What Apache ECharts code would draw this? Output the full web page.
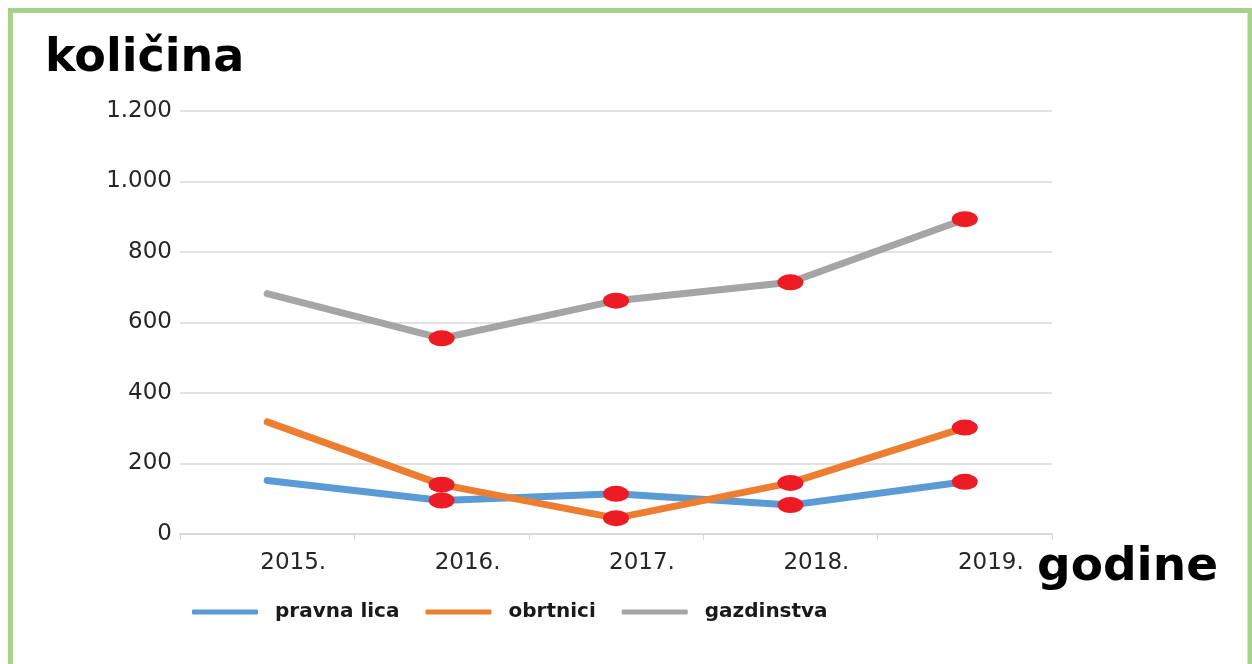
<!DOCTYPE html>
<html>
<head>
<meta charset="utf-8">
<script src="https://cdn.jsdelivr.net/npm/echarts@6/dist/echarts.min.js"></script>
<style>
  html, body { margin: 0; padding: 0; background: #fff; }
  #main { width: 1252px; height: 664px; }
</style>
</head>
<body>
<div id="main"></div>
<script>
// ---------- podaci ----------
const years = ['2015.', '2016.', '2017.', '2018.', '2019.']
const pravnaLica = [152, 95, 114, 82, 148]
const obrtnici = [318, 140, 45, 145, 302]
const gazdinstva = [682, 555, 662, 714, 893]
const yTicks = [0, 200, 400, 600, 800, 1000, 1200]

const seriesNames = ['pravna lica', 'obrtnici', 'gazdinstva']
const seriesColors = ['#5B9BD5', '#ED7D31', '#A5A5A5']

// prva tacka nema crveni marker
function points(arr) {
  return arr.map((v, i) => i === 0 ? { value: v, symbol: 'none' } : v)
}

// 1200 -> 1.200
function fmt(v) {
  return v >= 1000 ? Math.floor(v / 1000) + '.' + String(v % 1000).padStart(3, '0') : String(v)
}

let myChart = echarts.init(document.querySelector('#main'))
let font = 'DejaVu Sans'

function lineSeries(name, arr, color) {
  return {
    name: name,
    type: 'line',
    data: points(arr),
    lineStyle: { color: color, width: 7, cap: 'round', join: 'round' },
    symbol: 'circle',
    symbolSize: [26, 16],
    itemStyle: { color: '#ED1C24' }
  }
}

let option = {
  backgroundColor: '#fff',
  animation: false,
  title: [
    {
      text: 'količina',
      left: 40,
      top: 31,
      textStyle: { fontFamily: font, fontSize: 46, fontWeight: 'bold', color: '#000' }
    },
    {
      text: 'godine',
      left: 1032,
      top: 539,
      textStyle: { fontFamily: font, fontSize: 47, fontWeight: 'bold', color: '#000' }
    }
  ],
  graphic: [
    {
      type: 'rect',
      shape: { x: 10.5, y: 10.5, width: 1239.5, height: 720 },
      style: { fill: 'none', stroke: '#A9D18E', lineWidth: 5 },
      z: 100
    }
  ],
  grid: { left: 180, right: 200, top: 111, bottom: 130 },
  legend: {
    left: 187,
    top: 597,
    icon: 'roundRect',
    itemWidth: 66,
    itemHeight: 5,
    itemGap: 26,
    textStyle: { fontFamily: font, fontSize: 20, fontWeight: 'bold', color: '#1a1a1a', padding: [0, 0, 0, 12] },
    data: seriesNames.map((n, i) => ({ name: n, itemStyle: { color: seriesColors[i] } }))
  },
  xAxis: {
    type: 'category',
    data: years,
    axisLine: { lineStyle: { color: '#D9D9D9', width: 2 } },
    axisTick: { show: true, length: 6, lineStyle: { color: '#D9D9D9' } },
    axisLabel: { fontFamily: font, fontSize: 23, color: '#262626', margin: 18, padding: [0, 0, 0, 52] }
  },
  yAxis: {
    type: 'value',
    min: yTicks[0],
    max: yTicks[yTicks.length - 1],
    interval: 200,
    axisLine: { show: false },
    axisTick: { show: false },
    splitLine: { lineStyle: { color: '#D9D9D9', width: 1.5 } },
    axisLabel: { fontFamily: font, fontSize: 23, color: '#262626', margin: 8, formatter: fmt }
  },
  series: [
    lineSeries(seriesNames[0], pravnaLica, seriesColors[0]),
    lineSeries(seriesNames[1], obrtnici, seriesColors[1]),
    lineSeries(seriesNames[2], gazdinstva, seriesColors[2])
  ]
}
myChart.setOption(option)
</script>
</body>
</html>
